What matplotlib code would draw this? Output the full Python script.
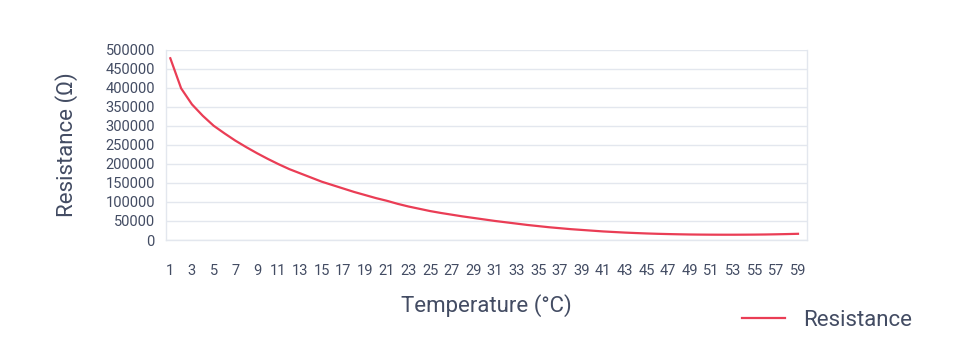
import numpy as np
import matplotlib
matplotlib.use('Agg')
import matplotlib.pyplot as plt

plt.rcParams['font.family'] = ['Roboto', 'DejaVu Sans']

temperature = list(range(1, 60))
resistance = [
    477000, 398000, 356000, 326000, 300000, 280000, 261000, 244000, 228000, 213000,
    199000, 186000, 175000, 164000, 153000, 144000, 135000, 126000, 118000, 110000,
    103000, 95000, 88000, 82000, 76000, 71000, 66500, 62000, 58000, 54000,
    50000, 46500, 43000, 39500, 36500, 33500, 31000, 28500, 26500, 24500,
    22500, 21000, 19500, 18300, 17200, 16300, 15600, 15000, 14500, 14200,
    14000, 13900, 13900, 14000, 14200, 14500, 15000, 15600, 16300,
]
y_ticks = list(range(0, 500001, 50000))
x_tick_labels = [str(t) for t in temperature[::2]]

text_color = '#434c63'
grid_color = '#e3e7ee'
line_color = '#ea3d55'

fig = plt.figure(figsize=(9.6, 3.6), dpi=100)
ax = fig.add_axes([0.1729, 0.3333, 0.6677, 0.5292])

ax.plot(temperature, resistance, color=line_color, lw=1.6, label='Resistance')

ax.set_xlim(0.6, 59.83)
ax.set_ylim(0, 500000)
ax.set_yticks(y_ticks)
ax.set_yticklabels([str(v) for v in y_ticks])
ax.set_xticks(temperature[::2])
ax.set_xticklabels(x_tick_labels)
ax.tick_params(axis='both', length=0, labelsize=10.5, colors=text_color)
ax.tick_params(axis='y', pad=8)
ax.tick_params(axis='x', pad=17)

ax.grid(axis='y', color=grid_color, lw=1)
ax.set_axisbelow(True)
for side in ['left', 'right', 'bottom']:
    ax.spines[side].set_color(grid_color)
    ax.spines[side].set_linewidth(1)
ax.spines['top'].set_visible(False)

ax.set_ylabel('Resistance (Ω)', fontsize=16, color=text_color, labelpad=20)
ax.set_xlabel('Temperature (°C)', fontsize=16, color=text_color, labelpad=12)

fig.legend(loc='center left', bbox_to_anchor=(0.773, 0.11), bbox_transform=fig.transFigure,
           frameon=False, borderpad=0, borderaxespad=0, fontsize=16,
           labelcolor=text_color, handlelength=1.95, handletextpad=0.8)

plt.savefig('out.png', dpi=100)
